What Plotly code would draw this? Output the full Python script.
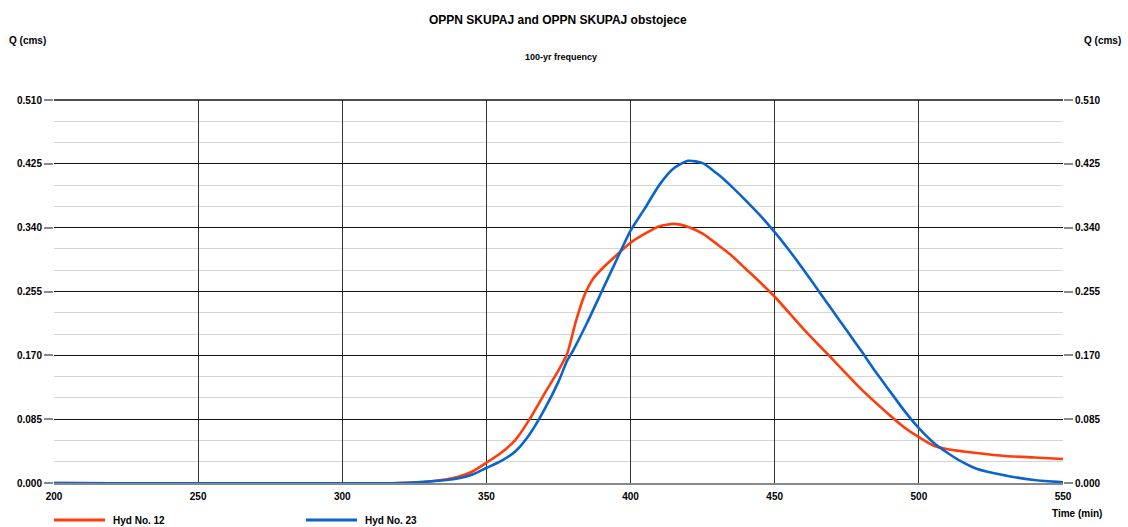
import plotly.graph_objects as go

# Time (min)
t_hyd12 = [200, 320, 330, 340, 345, 350, 355, 360, 365, 370, 375, 378, 381, 384, 387, 390,
           395, 400, 405, 410, 415, 420, 425, 430, 435, 440, 445, 450, 460, 470, 480, 490,
           495, 500, 505, 510, 520, 530, 540, 550]
q_hyd12 = [0.0, 0.0, 0.002, 0.008, 0.015, 0.027, 0.040, 0.057, 0.085, 0.118, 0.150, 0.172,
           0.215, 0.250, 0.272, 0.285, 0.303, 0.320, 0.332, 0.342, 0.345, 0.341, 0.332, 0.318,
           0.303, 0.285, 0.267, 0.248, 0.205, 0.165, 0.125, 0.090, 0.074, 0.061, 0.050, 0.045,
           0.040, 0.036, 0.034, 0.032]

t_hyd23 = [200, 320, 330, 340, 345, 350, 355, 360, 365, 370, 375, 378, 380, 385, 390, 395,
           400, 405, 410, 415, 420, 425, 430, 435, 440, 445, 450, 455, 460, 465, 470, 475,
           480, 485, 490, 495, 500, 505, 510, 515, 520, 530, 540, 550]
q_hyd23 = [0.0, 0.0, 0.002, 0.006, 0.011, 0.020, 0.029, 0.042, 0.065, 0.097, 0.135, 0.163,
           0.176, 0.214, 0.255, 0.296, 0.336, 0.366, 0.397, 0.419, 0.429, 0.426, 0.412, 0.395,
           0.376, 0.356, 0.334, 0.310, 0.284, 0.257, 0.230, 0.203, 0.176, 0.148, 0.122, 0.096,
           0.073, 0.054, 0.040, 0.028, 0.019, 0.010, 0.004, 0.001]

series_names = ["Hyd No. 12", "Hyd No. 23"]
y_ticks = [0.0, 0.085, 0.170, 0.255, 0.340, 0.425, 0.510]
x_ticks = [200, 250, 300, 350, 400, 450, 500, 550]

title_text = "OPPN SKUPAJ and OPPN SKUPAJ obstojece"
subtitle_text = "100-yr frequency"
y_label = "Q (cms)"
x_label = "Time (min)"

FONT = "Liberation Sans, Arial, sans-serif"
RED = "#ff3c0a"
BLUE = "#0a64cc"
colors = [RED, BLUE]

fig = go.Figure()
fig.add_trace(go.Scatter(x=t_hyd12, y=q_hyd12, mode="lines", name=series_names[0],
                         line=dict(color=RED, width=2.6, shape="spline", smoothing=0.6)))
fig.add_trace(go.Scatter(x=t_hyd23, y=q_hyd23, mode="lines", name=series_names[1],
                         line=dict(color=BLUE, width=2.6, shape="spline", smoothing=0.6)))
# invisible trace to activate the right-hand axis
fig.add_trace(go.Scatter(x=t_hyd23, y=q_hyd23, mode="lines", yaxis="y2", showlegend=False,
                         hoverinfo="skip", line=dict(color="rgba(0,0,0,0)", width=0)))

W, H = 1128, 527
ML, MR, MT, MB = 54, 65, 100, 44
pw = W - ML - MR
ph = H - MT - MB

def px_x(x):
    return (x - ML) / pw

def px_y(y):
    return (H - MB - y) / ph

tickfont = dict(family=FONT, size=11, color="#000")

annotations = [
    dict(text="<b>" + title_text + "</b>", xref="paper", yref="paper",
         x=px_x(558), y=px_y(20), xanchor="center", yanchor="middle", showarrow=False,
         font=dict(family=FONT, size=12, color="#000")),
    dict(text="<b>" + subtitle_text + "</b>", xref="paper", yref="paper",
         x=px_x(561), y=px_y(57), xanchor="center", yanchor="middle", showarrow=False,
         font=dict(family=FONT, size=9, color="#000")),
    dict(text="<b>" + y_label + "</b>", xref="paper", yref="paper",
         x=px_x(7), y=px_y(40), xanchor="left", yanchor="middle", showarrow=False,
         font=dict(family=FONT, size=10, color="#000")),
    dict(text="<b>" + y_label + "</b>", xref="paper", yref="paper",
         x=px_x(1123), y=px_y(40), xanchor="right", yanchor="middle", showarrow=False,
         font=dict(family=FONT, size=10, color="#000")),
    dict(text="<b>" + x_label + "</b>", xref="paper", yref="paper",
         x=px_x(1104), y=px_y(513), xanchor="right", yanchor="middle", showarrow=False,
         font=dict(family=FONT, size=10, color="#000")),
]
shapes = [
    dict(type="line", xref="paper", yref="paper", x0=0, x1=1, y0=1, y1=1,
         line=dict(color="#111", width=1.5)),
]

# manual legend below the plot
legend_x = [54, 306]
for i, name in enumerate(series_names):
    x0 = legend_x[i]
    shapes.append(dict(type="line", xref="paper", yref="paper",
                       x0=px_x(x0), x1=px_x(x0 + 51), y0=px_y(520), y1=px_y(520),
                       line=dict(color=colors[i], width=3)))
    annotations.append(dict(text="<b>" + name + "</b>", xref="paper", yref="paper",
                            x=px_x(x0 + 57), y=px_y(520), xanchor="left", yanchor="middle",
                            showarrow=False, font=dict(family=FONT, size=10, color="#000")))

fig.update_layout(
    width=W, height=H,
    margin=dict(l=ML, r=MR, t=MT, b=MB, autoexpand=False),
    paper_bgcolor="white", plot_bgcolor="white",
    font=dict(family=FONT, color="#000"),
    showlegend=False,
    xaxis=dict(range=[200, 550], tickvals=x_ticks,
               ticktext=["<b>" + str(v) + "</b>" for v in x_ticks],
               showgrid=True, gridcolor="#333", gridwidth=1,
               showline=True, linecolor="#888", linewidth=2, zeroline=False,
               ticks="outside", ticklen=3, tickcolor="rgba(0,0,0,0)",
               tickfont=dict(family=FONT, size=10, color="#000"), fixedrange=True),
    yaxis=dict(range=[0, 0.51], tickvals=y_ticks,
               ticktext=["<b>%.3f</b>" % v for v in y_ticks],
               showgrid=True, gridcolor="#111", gridwidth=1, zeroline=False,
               showline=False, ticks="outside", ticklen=9, tickcolor="#888", tickwidth=2,
               tickfont=dict(family=FONT, size=10, color="#000"),
               minor=dict(dtick=0.085 / 3, tick0=0, showgrid=True, gridcolor="#d4d4d4",
                          gridwidth=1, ticks=""),
               fixedrange=True),
    yaxis2=dict(range=[0, 0.51], tickvals=y_ticks,
                ticktext=["<b>%.3f</b>" % v for v in y_ticks], overlaying="y",
                side="right", showgrid=False, zeroline=False, showline=False,
                ticks="outside", ticklen=9, tickcolor="#888", tickwidth=2,
                tickfont=dict(family=FONT, size=10, color="#000"), fixedrange=True),
    annotations=annotations,
    shapes=shapes,
)

fig.write_html("out.html")
